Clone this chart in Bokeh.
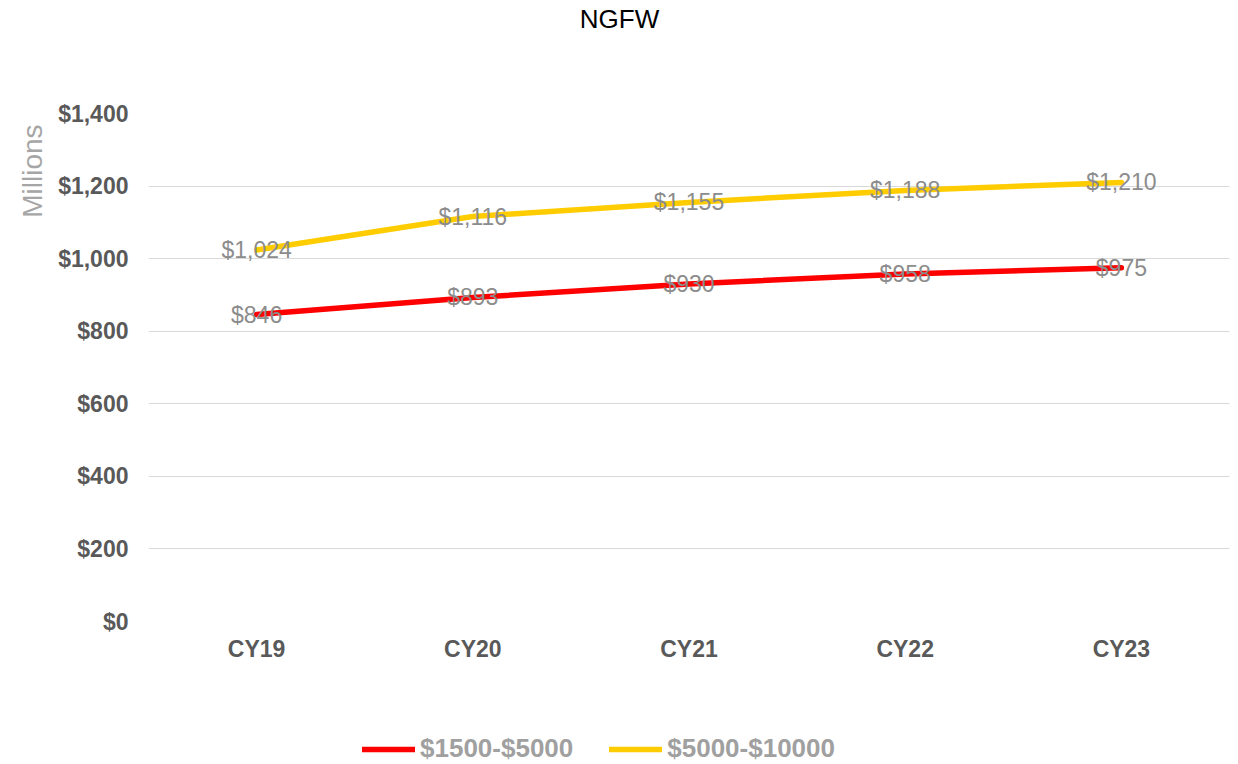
import math
from bokeh.plotting import figure
from bokeh.layouts import column, row
from bokeh.models import (ColumnDataSource, FixedTicker, NumeralTickFormatter,
                          Legend, LegendItem, Range1d, FactorRange, Label)
from bokeh.core.properties import value
from bokeh.embed import file_html
from bokeh.resources import INLINE

years = ["CY19", "CY20", "CY21", "CY22", "CY23"]
low_band = [846, 893, 930, 958, 975]
high_band = [1024, 1116, 1155, 1188, 1210]
series_names = ["$1500-$5000", "$5000-$10000"]
y_ticks = [0, 200, 400, 600, 800, 1000, 1200, 1400]
chart_title = "NGFW"
y_title = "Millions"

FONT = "Liberation Sans"
RED = "#FF0000"
YELLOW = "#FFCC00"


def blank(width, height, x_range=None):
    f = figure(width=width, height=height,
               x_range=x_range if x_range is not None else Range1d(0, width),
               y_range=Range1d(0, height), output_backend="svg",
               toolbar_location=None, x_axis_type=None, y_axis_type=None,
               min_border=0)
    f.outline_line_color = None
    f.grid.visible = False
    f.background_fill_color = "white"
    f.border_fill_color = "white"
    return f


src = ColumnDataSource(dict(
    x=years, low=low_band, high=high_band,
    low_lbl=["${:,}".format(v) for v in low_band],
    high_lbl=["${:,}".format(v) for v in high_band],
))

# ---- header with title ----
head = blank(1238, 98)
head.add_layout(Label(x=619, y=80, text=chart_title, text_align="center",
                      text_baseline="middle", text_font=FONT,
                      text_font_size="26px", text_color="#000000"))

# ---- left strip with axis title ----
strip = blank(50, 582)
strip.add_layout(Label(x=32, y=516, text=y_title, angle=math.pi / 2,
                       text_align="center", text_baseline="middle",
                       text_font=FONT, text_font_size="28px",
                       text_color="#A6A6A6"))

# ---- main chart ----
p = figure(width=1188, height=582, x_range=FactorRange(*years),
           y_range=Range1d(0, 1400), output_backend="svg",
           toolbar_location=None,
           min_border_left=98, min_border_right=9,
           min_border_top=15, min_border_bottom=59)
p.outline_line_color = None
p.background_fill_color = "white"
p.border_fill_color = "white"
p.xgrid.grid_line_color = None
p.ygrid.grid_line_color = "#D9D9D9"
p.ygrid.grid_line_width = 1

p.yaxis.ticker = FixedTicker(ticks=y_ticks)
p.yaxis.formatter = NumeralTickFormatter(format="$0,0")
for ax in (p.xaxis[0], p.yaxis[0]):
    ax.axis_line_color = None
    ax.major_tick_line_color = None
    ax.minor_tick_line_color = None
    ax.major_label_text_font = FONT
    ax.major_label_text_font_size = "23px"
    ax.major_label_text_font_style = "bold"
    ax.major_label_text_color = "#595959"
p.yaxis.major_label_standoff = 14
p.xaxis.major_label_standoff = 8

p.line("x", "low", source=src, line_color=RED, line_width=5.5,
       line_cap="round")
p.line("x", "high", source=src, line_color=YELLOW, line_width=5.5,
       line_cap="round")

for col, lbl in (("low", "low_lbl"), ("high", "high_lbl")):
    p.text("x", col, text=lbl, source=src, text_align="center",
           text_baseline="middle", text_font=value(FONT),
           text_font_size="23px", text_color="#8C8C8C")

# ---- footer with legend (series drawn out of view, keyed in legend) ----
foot = blank(1238, 84, x_range=FactorRange(*years))
k1 = foot.line("x", "low", source=src, line_color=RED, line_width=5.5,
               line_cap="round")
k2 = foot.line("x", "high", source=src, line_color=YELLOW, line_width=5.5,
               line_cap="round")
legend = Legend(items=[LegendItem(label=series_names[0], renderers=[k1]),
                       LegendItem(label=series_names[1], renderers=[k2])],
                orientation="horizontal", location=(362, 0))
legend.label_text_font = FONT
legend.label_text_font_size = "26px"
legend.label_text_font_style = "bold"
legend.label_text_color = "#A0A0A0"
legend.glyph_width = 53
legend.label_standoff = 5
legend.spacing = 36
legend.padding = 0
legend.margin = 0
legend.border_line_color = None
legend.background_fill_alpha = 0
foot.add_layout(legend, "center")

layout = column(head, row(strip, p, spacing=0), foot, spacing=0)
open("out.html", "w").write(file_html(layout, INLINE))
